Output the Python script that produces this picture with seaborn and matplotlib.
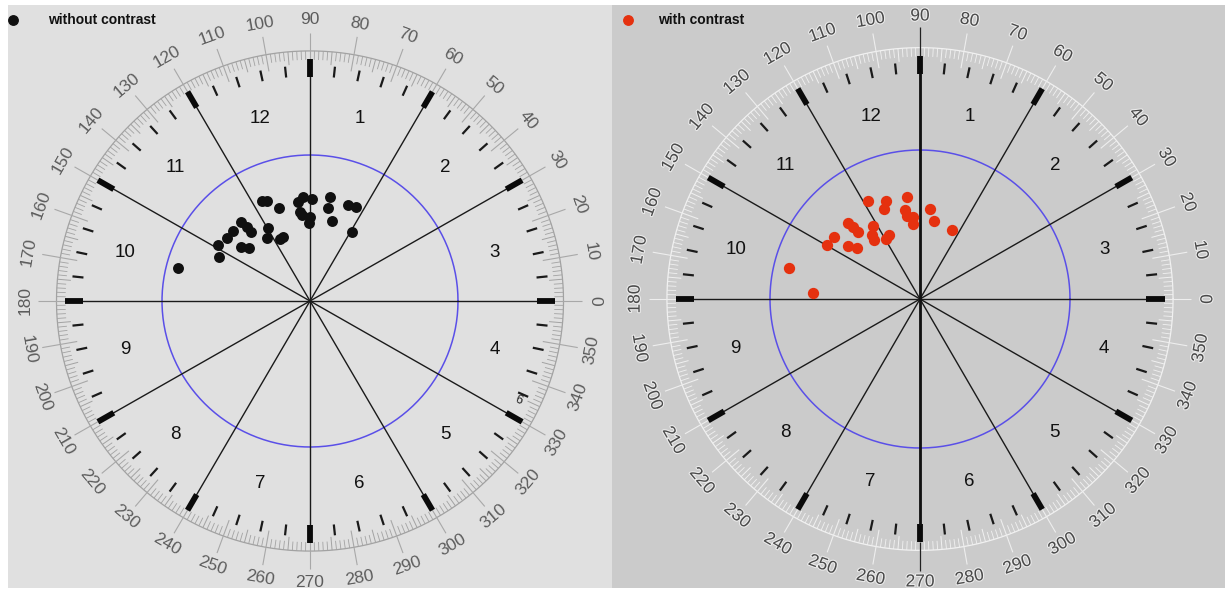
import numpy as np
import pandas as pd
import matplotlib
matplotlib.use("Agg")
import matplotlib.pyplot as plt
import matplotlib.patheffects as pe
from matplotlib.collections import LineCollection
from matplotlib.lines import Line2D
import seaborn as sns

# Eye positions, in units of the reference (blue) circle radius
without_x = [-0.89, -0.615, -0.624, -0.563, -0.522, -0.466, -0.428, -0.401, -0.468, -0.41,
             -0.326, -0.293, -0.207, -0.282, -0.293, -0.203, -0.18, -0.083, -0.045, 0.016,
             -0.068, -0.056, 0.0, -0.007, 0.135, 0.12, 0.147, 0.255, 0.311, 0.286]
without_y = [0.224, 0.299, 0.384, 0.434, 0.482, 0.539, 0.509, 0.471, 0.372, 0.361,
             0.687, 0.687, 0.635, 0.502, 0.429, 0.423, 0.44, 0.68, 0.714, 0.697,
             0.612, 0.589, 0.577, 0.532, 0.714, 0.635, 0.55, 0.658, 0.646, 0.475]

with_x = [-0.345, -0.229, -0.238, -0.089, -0.10, -0.089, -0.045, -0.049, 0.067, 0.093,
          0.215, -0.478, -0.445, -0.415, -0.573, -0.622, -0.478, -0.422, -0.311, -0.322,
          -0.305, -0.227, -0.205, -0.871, -0.715]
with_y = [0.655, 0.66, 0.605, 0.682, 0.598, 0.56, 0.549, 0.505, 0.605, 0.522,
          0.46, 0.511, 0.482, 0.449, 0.415, 0.36, 0.353, 0.342, 0.487, 0.427,
          0.398, 0.405, 0.427, 0.211, 0.038]

series_names = ["without contrast", "with contrast"]
series_colors = ["#101010", "#e5310f"]
clock_numbers = list(range(1, 13))
degree_labels = list(range(0, 360, 10))

sns.set_theme(style="white")
plt.rcParams["font.family"] = ["Liberation Sans", "DejaVu Sans"]

W, H = 1225, 591
fig = plt.figure(figsize=(W / 100, H / 100), dpi=100)
fig.patch.set_facecolor("white")


def segs(angles, r0, r1):
    t = np.deg2rad(np.asarray(angles, dtype=float))
    return [[(r0 * np.cos(a), r0 * np.sin(a)), (r1 * np.cos(a), r1 * np.sin(a))] for a in t]


def draw_dial(ax, ring_r, bg, ring_col, line_col, label_col, halo, dark_vertical):
    ax.set_facecolor(bg)
    for s in ax.spines.values():
        s.set_visible(False)
    ax.set_xticks([])
    ax.set_yticks([])

    # reference circle
    t = np.linspace(0, 2 * np.pi, 400)
    ax.plot(np.cos(t), np.sin(t), color="#5a4fe8", lw=1.1, zorder=2)

    # protractor ring: outer edge, 1°, 5° and 10° graduations
    R = ring_r
    ax.plot(1.035 * R * np.cos(t), 1.035 * R * np.sin(t), color=ring_col, lw=0.9, zorder=1)
    deg1 = [d for d in range(360) if d % 5]
    deg5 = [d for d in range(5, 360, 10)]
    ax.add_collection(LineCollection(segs(deg1, 0.998 * R, 1.035 * R), colors=ring_col, lw=0.6, zorder=1))
    ax.add_collection(LineCollection(segs(deg5, 0.98 * R, 1.035 * R), colors=ring_col, lw=0.7, zorder=1))
    ax.add_collection(LineCollection(segs(degree_labels, 0.965 * R, 1.11 * R), colors=line_col, lw=0.8, zorder=1))

    for d in degree_labels:
        rot = d - 90 if d <= 180 else d - 270
        a = np.deg2rad(d)
        txt = ax.text(1.165 * R * np.cos(a), 1.165 * R * np.sin(a), str(d), rotation=rot,
                      rotation_mode="anchor", ha="center", va="center", fontsize=12.5,
                      color=label_col, zorder=3)
        if halo:
            txt.set_path_effects([pe.withStroke(linewidth=1.6, foreground="#f4f4f4", alpha=0.8)])

    # clock face: spokes, hour marks and minute marks
    hours = list(range(0, 360, 30))
    minutes = [d for d in range(0, 360, 6) if d % 30]
    ax.add_collection(LineCollection(segs(hours, 0, 0.93 * R), colors="#1a1a1a", lw=1.0, zorder=2))
    ax.add_collection(LineCollection(segs(hours, 0.925 * R, 1.0 * R), colors="#0a0a0a", lw=4.2,
                                     capstyle="butt", zorder=2))
    ax.add_collection(LineCollection(segs(minutes, 0.93 * R, 0.975 * R), colors="#1a1a1a", lw=1.6,
                                     capstyle="butt", zorder=2))
    if dark_vertical:
        ax.add_collection(LineCollection(segs([90, 270], 0, 0.93 * R), colors="#111111", lw=2.0, zorder=2))
        ax.add_collection(LineCollection(segs([90, 270], 1.0 * R, 1.12 * R), colors="#222222", lw=0.9, zorder=2))

    for k in clock_numbers:
        a = np.deg2rad(105 - 30 * k)
        ax.text(0.78 * R * np.cos(a), 0.78 * R * np.sin(a), str(k), ha="center", va="center",
                fontsize=13.5, color="#111111", zorder=3)


def add_axes(x0, x1, cx, cy, rx, ry):
    top, bottom = 5, 588
    ax = fig.add_axes([x0 / W, 1 - bottom / H, (x1 - x0) / W, (bottom - top) / H])
    ax.set_xlim((x0 - cx) / rx, (x1 - cx) / rx)
    ax.set_ylim((cy - bottom) / ry, (cy - top) / ry)
    return ax


ax_l = add_axes(8, 612, 310, 301, 148, 146)
ax_r = add_axes(612, 1225, 920, 299, 150, 149)

draw_dial(ax_l, 1.655, "#e0e0e0", "#a2a2a2", "#a8a8a8", "#5c5c5c", False, False)
draw_dial(ax_r, 1.63, "#cbcbcb", "#f1f1f1", "#eeeeee", "#4a4a4a", True, True)

# stray small numeral printed on the left dial
ax_l.text(1.41, -0.68, "6", fontsize=9, rotation=-20, color="#222222", ha="center", va="center")

df_l = pd.DataFrame({"x": without_x, "y": without_y})
df_r = pd.DataFrame({"x": with_x, "y": with_y})
sns.scatterplot(data=df_l, x="x", y="y", ax=ax_l, color=series_colors[0], s=62, linewidth=0, zorder=4)
sns.scatterplot(data=df_r, x="x", y="y", ax=ax_r, color=series_colors[1], s=66, linewidth=0, zorder=4)
for ax in (ax_l, ax_r):
    ax.set_xlabel("")
    ax.set_ylabel("")

# legend entries in the top-left corner of each panel
for ax, name, col, dx, tx in [(ax_l, series_names[0], series_colors[0], 0.0083, 0.066),
                              (ax_r, series_names[1], series_colors[1], 0.026, 0.075)]:
    ax.add_line(Line2D([dx], [0.974], marker="o", markersize=6.8, color=col, linestyle="none",
                       transform=ax.transAxes, clip_on=False))
    ax.text(tx, 0.974, name, transform=ax.transAxes, fontsize=10, fontweight="bold",
            color="#111111", ha="left", va="center")

fig.savefig("out.png", dpi=100, facecolor=fig.get_facecolor())
